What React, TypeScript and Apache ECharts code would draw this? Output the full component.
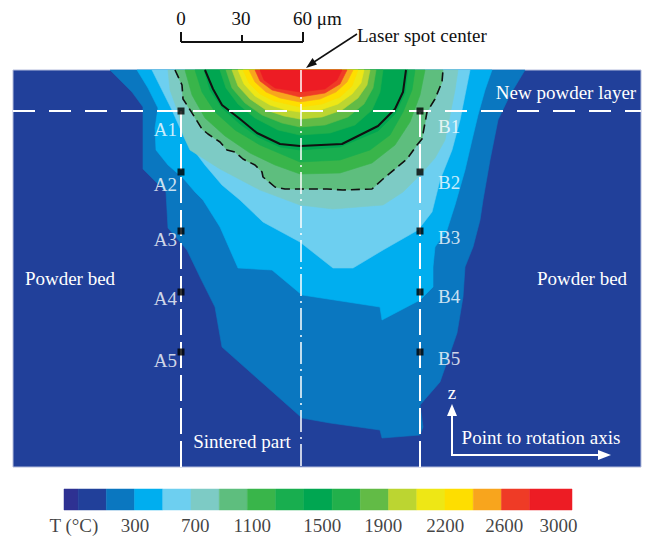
import React, { useEffect, useRef } from 'react';
import * as echarts from 'echarts';

// Temperature legend colours (lowest to highest)
const palette = [
  '#2E3192', '#21409A', '#0A77C0', '#00AEEF', '#6DCFF0', '#7DCBC5',
  '#5EBE7E', '#39B54A', '#18AE4F', '#00A651', '#22B04B', '#62BB46',
  '#BCD531', '#EEE715', '#FEDE00', '#F8A51D', '#EF3B26', '#ED1C24',
];
// colour-bar cell edges (in legend units)
const barEdges = [0, 0.5, 1.5, 2.5, 3.5, 4.5, 5.5, 6.5, 7.5, 8.5, 9.5, 10.5, 11.5, 12.5, 13.5, 14.5, 15.5, 16.5, 18];
const tickLabels = ['T (°C)', '300', '700', '1100', '1500', '1900', '2200', '2600', '3000'];
const tickPositions = [0.35, 2.52, 4.65, 6.67, 9.15, 11.31, 13.51, 15.6, 17.52];

// Isotherm boundaries, [x µm from laser centre, z µm from top surface]
const band2 = [[-95.5, 0], [-84.5, -11], [-79, -18.5], [-79, -49.5], [-67.5, -61], [-66.5, -79], [-57, -90], [-50.5, -103.5], [-43, -118.5], [-39.5, -138.5], [0.5, -174], [14.5, -176.5], [39.5, -180], [40.5, -184], [59.5, -182.5], [61, -178.5], [59.5, -167.5], [69.5, -156], [78, -131.5], [81, -113.5], [82, -98.5], [86, -88.5], [89.5, -75], [91, -65], [94.5, -45], [98.5, -25], [104.5, -12.5], [112, 0]];
const band3 = [[-82, 0], [-76.5, -9], [-71.5, -19], [-73, -29], [-72.5, -40], [-66.5, -47.5], [-59, -54], [-53, -61], [-49, -65], [-40.5, -78.5], [-31.5, -99], [-14.5, -100], [0.5, -112.5], [39.5, -118.5], [40.5, -125], [59.5, -115], [66, -108.5], [66, -98.5], [67, -88.5], [73, -80], [77, -67.5], [82, -50], [85.5, -35], [88.5, -22.5], [92, -10], [95.5, 0]];
const band4 = [[-74.5, 0], [-69.5, -10], [-64.5, -20], [-60.5, -29], [-55.5, -37.5], [-48, -47.5], [-39.5, -57.5], [-30.5, -65], [-19, -76], [-0.5, -86], [16, -99], [26, -99], [41, -90], [58.5, -80], [65.5, -71], [69.5, -55], [75.5, -40], [79.5, -25], [82, -12.5], [84.5, 0]];
const band5 = [[-66.5, 0], [-65.5, -10], [-61.5, -21], [-59, -32.5], [-55.5, -40], [-40.5, -49.5], [-20.5, -60], [-0.5, -67.5], [16, -69.5], [41, -67.5], [51, -61], [59.5, -52.5], [67, -44], [72, -35], [74.5, -22.5], [77, -10], [78.5, 0]];
const band6 = [[-63, 0], [-59.5, -7.5], [-59, -14.5], [-57, -17.5], [-49.5, -29.5], [-46.5, -32], [-40.5, -36], [-37, -40], [-33, -41], [-29, -44.5], [-23, -47.5], [-19.5, -51], [-19, -53.5], [-13, -58.5], [-8, -59.5], [13, -59.5], [21, -60], [35.5, -59.5], [41, -54.5], [53, -44.5], [58, -37.5], [60.5, -34.5], [63, -21], [67, -14.5], [70.5, -6], [71, 0]];
const band7 = [[-58, 0], [-54.5, -12.5], [-48, -24], [-38, -33], [-25.5, -41.5], [-13, -47.5], [-0.5, -52], [19.5, -51.5], [35.5, -46.5], [47, -37.5], [54.5, -26], [59.5, -12.5], [62, 0]];
const band8 = [[-53, 0], [-49.5, -11], [-43, -21], [-33, -30], [-20.5, -37.5], [-0.5, -46], [19.5, -45], [34.5, -40], [44.5, -32.5], [51, -21], [55.5, -10], [57, 0]];
const band9 = [[-48.5, 0], [-45.5, -10], [-39.5, -19], [-30.5, -27], [-21.5, -33.5], [-10.5, -38.5], [-0.5, -40], [19.5, -38.5], [38.5, -30.5], [47, -22], [52, -11.5], [53.5, 0]];
const band10 = [[-40.5, 0], [-37.5, -9], [-31.5, -17], [-23, -24], [-11.5, -30], [-0.5, -32.5], [14.5, -31.5], [27, -27.5], [35.5, -20], [39.5, -11], [41, 0]];
const band11 = [[-37.5, 0], [-34.5, -9], [-28, -16.5], [-19.5, -22.5], [-9.5, -26.5], [-0.5, -28.5], [12, -27.5], [23.5, -23.5], [31.5, -17], [36, -9], [37.5, 0]];
const band12 = [[-34.5, 0], [-31.5, -8], [-25.5, -14.5], [-17.5, -20], [-8.5, -23], [-0.5, -24.5], [10.5, -23.5], [20.5, -20], [28.5, -14], [33, -7.5], [34.5, 0]];
const band13 = [[-31.5, 0], [-28.5, -7], [-23, -13], [-15.5, -17.5], [-7.5, -20], [-0.5, -21], [9.5, -20], [18.5, -17], [25.5, -12], [30, -6.5], [31.5, 0]];
const band14 = [[-29, 0], [-26, -6.5], [-20.5, -12], [-13.5, -15.5], [-0.5, -18.5], [10.5, -17], [19.5, -13.5], [25.5, -8], [28.5, 0]];
const band15 = [[-26, 0], [-23, -6], [-17.5, -11], [-10.5, -14], [-0.5, -16], [9.5, -14.5], [17.5, -11], [23, -6], [26, 0]];
const band16 = [[-23, 0], [-20.5, -5.5], [-14.5, -10], [-0.5, -13.5], [12, -11.5], [19.5, -7], [23, 0]];
const band17 = [[-20.5, 0], [-18.5, -5], [-13, -9], [-0.5, -11], [12, -9.5], [18, -5], [20.5, 0]];
const solidIsoline = [[-48, 0], [-44, -9.5], [-39.5, -17.5], [-30.5, -24.5], [-22, -31.5], [-10.5, -37], [-0.5, -38], [20.5, -37], [38.5, -28], [47, -19.5], [51, -11], [52.5, 0]];

// measuring points
const lineAx = -60;
const lineBx = 59.5;
const pointZ = [-20.5, -51, -80.5, -111, -141];
const pointNames = ['1', '2', '3', '4', '5'];
const labelAz = [-29.5, -57, -84.5, -114, -145];
const labelBz = [-28, -56, -83.5, -113, -144];
const layerZ = -20.5;
const xRange = [-144, 170];
const zRange = [-198.5, 0];

const bandLevels = [2, 3, 4, 5, 6, 7, 8, 9, 10, 11, 12, 13, 14, 15, 16, 17];
const bandShapes = [band2, band3, band4, band5, band6, band7, band8, band9, band10, band11, band12, band13, band14, band15, band16, band17];

const FONT = '"Liberation Serif", "Times New Roman", serif';

function buildOption(): any {
  const white = '#ffffff';
  const txt = (text: string, x: number, y: number, color: string, align = 'center') => ({
    type: 'text', x, y, z: 100,
    style: { text, fill: color, font: `19px ${FONT}`, textAlign: align, textVerticalAlign: 'middle' },
  });
  return {
    animation: false,
    backgroundColor: '#ffffff',
    grid: [
      { left: 13, top: 70, width: 628, height: 397, show: true, backgroundColor: palette[1], borderColor: '#b4bcdc', borderWidth: 1 },
      { left: 64, top: 489, width: 508, height: 21, show: false },
    ],
    xAxis: [
      { type: 'value', gridIndex: 0, min: xRange[0], max: xRange[1], show: false },
      { type: 'value', gridIndex: 1, min: 0, max: 18, show: false },
    ],
    yAxis: [
      { type: 'value', gridIndex: 0, min: zRange[0], max: zRange[1], show: false },
      { type: 'value', gridIndex: 1, min: 0, max: 1, show: false },
    ],
    series: [
      {
        type: 'custom', xAxisIndex: 0, yAxisIndex: 0, z: 1, silent: true,
        data: bandShapes.map((_, i) => [i, 0]),
        renderItem: (params: any, api: any) => {
          const pts = bandShapes[params.dataIndex].map((p) => api.coord(p));
          const c = palette[bandLevels[params.dataIndex]];
          return { type: 'polygon', shape: { points: pts }, style: { fill: c, stroke: c, lineWidth: 0.6 } };
        },
      },
      {
        type: 'line', xAxisIndex: 0, yAxisIndex: 0, z: 3, silent: true, symbol: 'none',
        data: band6, lineStyle: { color: '#111', width: 1.6, type: [9, 5] },
      },
      {
        type: 'line', xAxisIndex: 0, yAxisIndex: 0, z: 3, silent: true, symbol: 'none',
        data: solidIsoline, lineStyle: { color: '#111', width: 2 },
      },
      {
        type: 'line', xAxisIndex: 0, yAxisIndex: 0, z: 4, silent: true, symbol: 'none',
        data: [[xRange[0], layerZ], [xRange[1], layerZ]], lineStyle: { color: white, width: 2, type: [22, 14] },
      },
      {
        type: 'line', xAxisIndex: 0, yAxisIndex: 0, z: 4, silent: true, symbol: 'none',
        data: [[lineAx, layerZ], [lineAx, zRange[0]]], lineStyle: { color: white, width: 2, type: [26, 7] },
      },
      {
        type: 'line', xAxisIndex: 0, yAxisIndex: 0, z: 4, silent: true, symbol: 'none',
        data: [[lineBx, layerZ], [lineBx, zRange[0]]], lineStyle: { color: white, width: 2, type: [26, 7] },
      },
      {
        type: 'line', xAxisIndex: 0, yAxisIndex: 0, z: 4, silent: true, symbol: 'none',
        data: [[0, zRange[1]], [0, zRange[0]]], lineStyle: { color: white, width: 1.5, type: [22, 5, 2, 5] },
      },
      {
        type: 'scatter', xAxisIndex: 0, yAxisIndex: 0, z: 5, silent: true, symbol: 'rect', symbolSize: 7,
        itemStyle: { color: '#000' },
        data: [...pointZ.map((z) => [lineAx, z]), ...pointZ.map((z) => [lineBx, z])],
      },
      {
        type: 'scatter', xAxisIndex: 0, yAxisIndex: 0, z: 5, silent: true, symbolSize: 0,
        label: { show: true, position: 'left', distance: 0, formatter: '{b}', color: white, fontSize: 19, fontFamily: FONT },
        data: labelAz.map((z, i) => ({ name: 'A' + pointNames[i], value: [lineAx - 2, z] })),
      },
      {
        type: 'scatter', xAxisIndex: 0, yAxisIndex: 0, z: 5, silent: true, symbolSize: 0,
        label: { show: true, position: 'right', distance: 0, formatter: '{b}', color: white, fontSize: 19, fontFamily: FONT },
        data: labelBz.map((z, i) => ({ name: 'B' + pointNames[i], value: [lineBx + 9, z] })),
      },
      {
        type: 'custom', xAxisIndex: 1, yAxisIndex: 1, z: 1, silent: true,
        data: palette.map((_, i) => [barEdges[i], barEdges[i + 1]]),
        renderItem: (params: any, api: any) => {
          const a = api.coord([api.value(0), 1]);
          const b = api.coord([api.value(1), 0]);
          const c = palette[params.dataIndex];
          return { type: 'rect', shape: { x: a[0], y: a[1], width: b[0] - a[0], height: b[1] - a[1] }, style: { fill: c, stroke: c, lineWidth: 0.5 } };
        },
      },
      {
        type: 'scatter', xAxisIndex: 1, yAxisIndex: 1, z: 5, silent: true, symbolSize: 0,
        label: { show: true, position: 'bottom', distance: 6, formatter: '{b}', color: '#111', fontSize: 19, fontFamily: FONT },
        data: tickPositions.map((p, i) => ({ name: tickLabels[i], value: [p, 0] })),
      },
    ],
    graphic: [
      // scale bar
      { type: 'line', z: 100, shape: { x1: 181, y1: 42, x2: 303, y2: 42 }, style: { stroke: '#111', lineWidth: 2 } },
      { type: 'line', z: 100, shape: { x1: 181, y1: 32, x2: 181, y2: 42 }, style: { stroke: '#111', lineWidth: 2 } },
      { type: 'line', z: 100, shape: { x1: 242, y1: 35, x2: 242, y2: 42 }, style: { stroke: '#111', lineWidth: 2 } },
      { type: 'line', z: 100, shape: { x1: 303, y1: 32, x2: 303, y2: 42 }, style: { stroke: '#111', lineWidth: 2 } },
      txt('0', 181, 18, '#111'),
      txt('30', 241, 18, '#111'),
      txt('60 μm', 293, 18, '#111', 'left'),
      txt('Laser spot center', 357, 35, '#111', 'left'),
      { type: 'line', z: 100, shape: { x1: 357, y1: 34, x2: 314, y2: 62 }, style: { stroke: '#111', lineWidth: 1.5 } },
      { type: 'polygon', z: 100, shape: { points: [[306, 68], [317, 64.5], [312.5, 58]] }, style: { fill: '#111' } },
      txt('New powder layer', 566, 92, white),
      txt('Powder bed', 70, 278, white),
      txt('Powder bed', 582, 278, white),
      txt('Sintered part', 242, 441, white),
      txt('z', 452, 392, white),
      txt('Point to rotation axis', 541, 437, white),
      { type: 'line', z: 100, shape: { x1: 452, y1: 455, x2: 452, y2: 414 }, style: { stroke: white, lineWidth: 2 } },
      { type: 'polygon', z: 100, shape: { points: [[452, 404], [447, 416], [457, 416]] }, style: { fill: white } },
      { type: 'line', z: 100, shape: { x1: 451, y1: 455, x2: 600, y2: 455 }, style: { stroke: white, lineWidth: 2 } },
      { type: 'polygon', z: 100, shape: { points: [[611, 455], [598, 450], [598, 460]] }, style: { fill: white } },
    ],
  };
}

export default function App() {
  const ref = useRef<HTMLDivElement>(null);
  useEffect(() => {
    const chart = echarts.init(ref.current as HTMLDivElement, null, { renderer: 'svg' });
    chart.setOption(buildOption());
    return () => chart.dispose();
  }, []);
  return <div ref={ref} style={{ position: 'absolute', left: 0, top: 0, width: 647, height: 539, background: '#fff' }} />;
}
